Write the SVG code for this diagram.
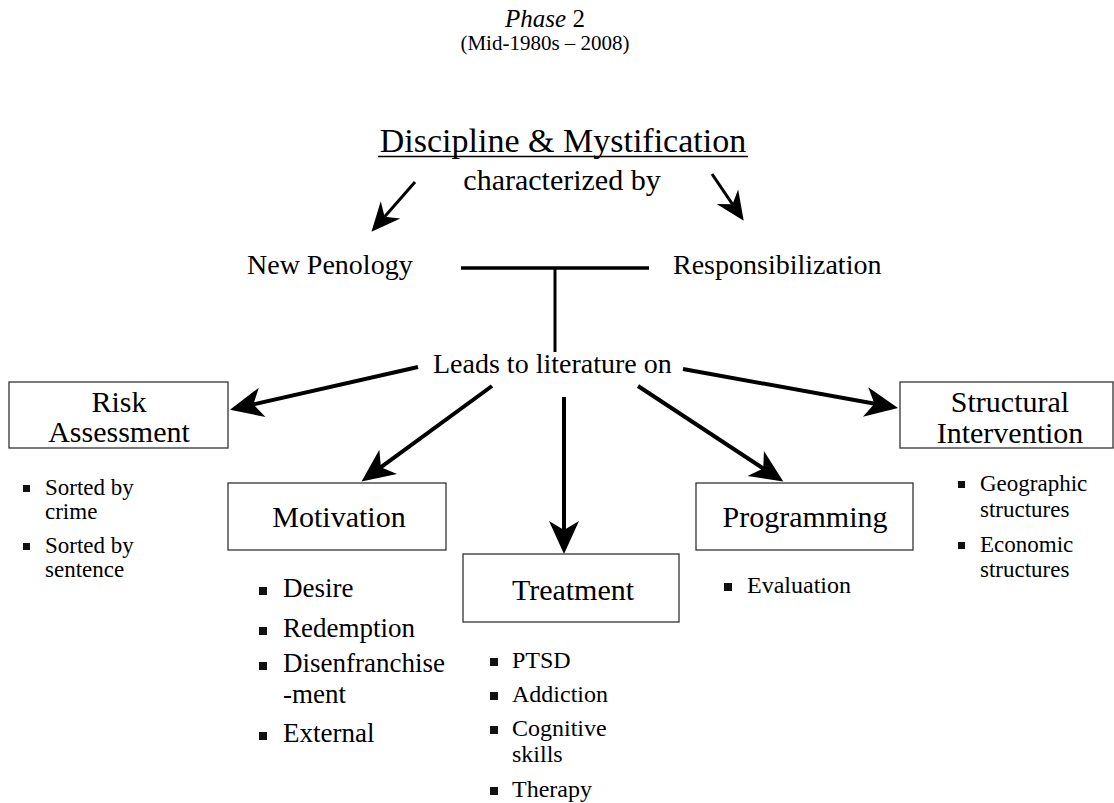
<svg xmlns="http://www.w3.org/2000/svg" width="1114" height="803" viewBox="0 0 1114 803">
<defs>
<style>
text{font-family:"Liberation Serif","Times New Roman",serif;fill:#000}
.box{fill:#fff;stroke:#333;stroke-width:1.3}
.lbl{font-size:30px;text-anchor:middle}
.mid{text-anchor:middle}
.conn{stroke:#000;fill:none;stroke-linecap:butt}
.big{stroke-width:4;marker-end:url(#ahBig)}
.small{stroke-width:3;marker-end:url(#ahSmall)}
.b23{font-size:23px}
.b24{font-size:24px}
.b27{font-size:27px}
.bul{fill:#111}
</style>
<marker id="ahBig" markerUnits="userSpaceOnUse" viewBox="-34 -16 35 32" markerWidth="35" markerHeight="32" refX="-22" refY="0" orient="auto">
<path d="M0,0 L-33,-15 L-24,0 L-33,15 Z" fill="#000"/>
</marker>
<marker id="ahSmall" markerUnits="userSpaceOnUse" viewBox="-30 -14 31 28" markerWidth="31" markerHeight="28" refX="-18" refY="0" orient="auto">
<path d="M0,0 L-29,-13 L-20,0 L-29,13 Z" fill="#000"/>
</marker>
</defs>
<rect width="1114" height="803" fill="#fff"/>

<g id="title">
<text x="545" y="27" class="mid" style="font-size:25px"><tspan font-style="italic">Phase</tspan> 2</text>
<text x="545" y="50" class="mid" style="font-size:21px">(Mid-1980s – 2008)</text>
</g>
<g id="discipline">
<text x="563" y="152" class="mid" style="font-size:34px">Discipline &amp; Mystification</text>
<line x1="378" y1="156.5" x2="748" y2="156.5" stroke="#000" stroke-width="1.5"/>
</g>
<g id="characterized">
<text x="562" y="190" class="mid" style="font-size:30px">characterized by</text>
</g>
<g id="new-penology">
<text x="247" y="274" style="font-size:28px">New Penology</text>
</g>
<g id="responsibilization">
<text x="673" y="274" style="font-size:28px">Responsibilization</text>
</g>
<g id="leads">
<text x="433" y="373" style="font-size:28px">Leads to literature on</text>
</g>

<g id="connectors">
<line class="conn small" x1="415" y1="182" x2="383.3" y2="218.2"/>
<line class="conn small" x1="712" y1="174" x2="733.6" y2="205.8"/>
<line class="conn" x1="461" y1="268" x2="649" y2="268" stroke-width="3.5"/>
<line class="conn" x1="555" y1="268" x2="555" y2="352" stroke-width="3"/>
<line class="conn big" x1="418" y1="367" x2="251.4" y2="404.8"/>
<line class="conn big" x1="492" y1="386" x2="379.3" y2="468.4"/>
<line class="conn big" x1="564" y1="397" x2="564" y2="532"/>
<line class="conn big" x1="638" y1="386" x2="764.9" y2="469.5"/>
<line class="conn big" x1="683" y1="369" x2="876.4" y2="404"/>
</g>

<g id="risk-assessment">
<rect class="box" x="9" y="382" width="219" height="66"/>
<text x="119" y="412" class="lbl">Risk</text>
<text x="119" y="442" class="lbl">Assessment</text>
<rect class="bul" x="23" y="485" width="7" height="7"/>
<text x="45" y="495" class="b23">Sorted by</text>
<text x="45" y="519" class="b23">crime</text>
<rect class="bul" x="23" y="543" width="7" height="7"/>
<text x="45" y="553" class="b23">Sorted by</text>
<text x="45" y="577" class="b23">sentence</text>
</g>

<g id="structural-intervention">
<rect class="box" x="900" y="382" width="213" height="66"/>
<text x="1010" y="412" class="lbl">Structural</text>
<text x="1010" y="443" class="lbl">Intervention</text>
<rect class="bul" x="958" y="481" width="7" height="7"/>
<text x="980" y="491" class="b23">Geographic</text>
<text x="980" y="517" class="b23">structures</text>
<rect class="bul" x="958" y="542" width="7" height="7"/>
<text x="980" y="552" class="b23">Economic</text>
<text x="980" y="577" class="b23">structures</text>
</g>

<g id="motivation">
<rect class="box" x="228" y="483" width="218" height="67"/>
<text x="339" y="527" class="lbl">Motivation</text>
<rect class="bul" x="259" y="587" width="8" height="8"/>
<text x="283" y="597" class="b27">Desire</text>
<rect class="bul" x="259" y="627" width="8" height="8"/>
<text x="283" y="637" class="b27">Redemption</text>
<rect class="bul" x="259" y="662" width="8" height="8"/>
<text x="283" y="672" class="b27">Disenfranchise</text>
<text x="283" y="703" class="b27">-ment</text>
<rect class="bul" x="259" y="732" width="8" height="8"/>
<text x="283" y="742" class="b27">External</text>
</g>

<g id="treatment">
<rect class="box" x="463" y="554" width="216" height="68"/>
<text x="573" y="600" class="lbl">Treatment</text>
<rect class="bul" x="490" y="658" width="8" height="8"/>
<text x="512" y="668" class="b24">PTSD</text>
<rect class="bul" x="490" y="692" width="8" height="8"/>
<text x="512" y="702" class="b24">Addiction</text>
<rect class="bul" x="490" y="726" width="8" height="8"/>
<text x="512" y="736" class="b24">Cognitive</text>
<text x="512" y="762" class="b24">skills</text>
<rect class="bul" x="490" y="787" width="8" height="8"/>
<text x="512" y="797" class="b24">Therapy</text>
</g>

<g id="programming">
<rect class="box" x="696" y="483" width="217" height="67"/>
<text x="805" y="527" class="lbl">Programming</text>
<rect class="bul" x="724" y="583" width="8" height="8"/>
<text x="747" y="593" class="b24">Evaluation</text>
</g>
</svg>
